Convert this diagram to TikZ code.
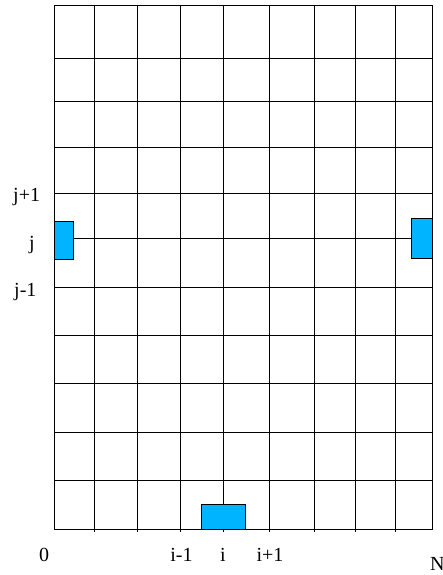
\documentclass[tikz,border=0pt]{standalone}
\usepackage{fontspec}
\setmainfont{Liberation Serif}
\definecolor{cellblue}{RGB}{0,180,255}
\tikzset{
  gridline/.style={black,line width=0.9pt},
  cellbox/.style={draw=black,fill=cellblue,line width=0.8pt,inner sep=0pt,
    anchor=north west},
  indexlbl/.style={font=\fontsize{20}{23}\selectfont,inner sep=0pt}
}
\begin{document}
\begin{tikzpicture}[x=1pt,y=-1pt]
  \useasboundingbox (0,0) rectangle (442,575);
  % outer frame
  \draw[gridline] (54,5) -- (432,5) -- (432,529) -- (54,529) -- cycle;
  % vertical lines, with a small tick below the frame
  \foreach \xx in {94,137,180,223,269,314,355,395}
    \draw[gridline] (\xx,5) -- (\xx,532);
  % horizontal lines
  \foreach \yy in {58,101,147,193,238,287,335,383,432,480}
    \draw[gridline] (54,\yy) -- (432,\yy);
  % boundary cells
  \node[cellbox,minimum width=19pt,minimum height=38pt] (west) at (54,221) {};
  \node[cellbox,minimum width=21pt,minimum height=40pt] (east) at (411,218) {};
  \node[cellbox,minimum width=44pt,minimum height=25pt] (south) at (201,503.5) {};
  % index labels
  \node[indexlbl,anchor=base west] (jp) at (13,201.5) {j+1};
  \node[indexlbl,anchor=base] (j) at (32,249) {j};
  \node[indexlbl,anchor=base west] (jm) at (14,296.5) {j-1};
  \node[indexlbl,anchor=base] (zero) at (44,561.5) {0};
  \node[indexlbl,anchor=base] (im) at (181.5,561.5) {i-1};
  \node[indexlbl,anchor=base] (i) at (223,561.5) {i};
  \node[indexlbl,anchor=base] (ip) at (270,561.5) {i+1};
  \node[indexlbl,anchor=base west] (nn) at (430,570.5) {N};
\end{tikzpicture}
\end{document}
